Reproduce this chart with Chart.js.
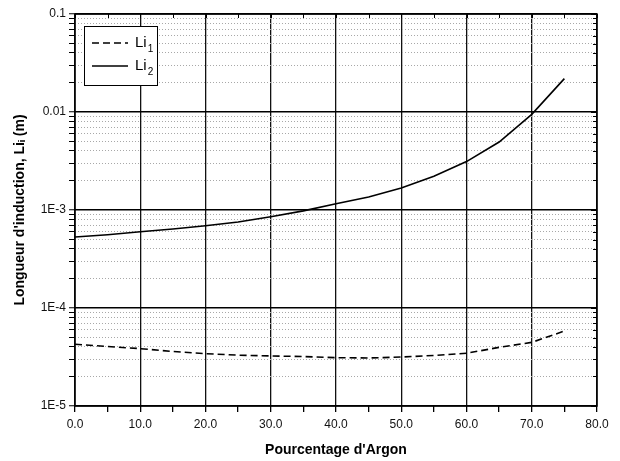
<!DOCTYPE html>
<html lang="fr">
<head>
<meta charset="utf-8">
<title>Longueur d'induction</title>
<script src="https://cdn.jsdelivr.net/npm/chart.js@4.4.0/dist/chart.umd.min.js"></script>
<style>
  html, body { margin: 0; padding: 0; background: #fff; }
  canvas { display: block; }
</style>
</head>
<body>
<canvas id="grafico" width="620" height="461"></canvas>
<script>
// Données
const argon = [0, 5, 10, 15, 20, 25, 30, 35, 40, 45, 50, 55, 60, 65, 70, 75];
const li1 = [4.27e-5, 4.05e-5, 3.85e-5, 3.6e-5, 3.42e-5, 3.3e-5, 3.24e-5, 3.2e-5, 3.11e-5, 3.09e-5, 3.16e-5, 3.28e-5, 3.45e-5, 3.97e-5, 4.46e-5, 5.82e-5];
const li2 = [5.3e-4, 5.6e-4, 6.0e-4, 6.4e-4, 6.9e-4, 7.55e-4, 8.55e-4, 9.8e-4, 1.16e-3, 1.36e-3, 1.68e-3, 2.21e-3, 3.12e-3, 4.94e-3, 9.46e-3, 2.19e-2];
const nomsSeries = ['Li₁', 'Li₂'];
const ticksX = [0, 10, 20, 30, 40, 50, 60, 70, 80];
const decadesY = [1e-5, 1e-4, 1e-3, 1e-2, 1e-1];
const etiquettesY = ['1E-5', '1E-4', '1E-3', '0.01', '0.1'];

function indiceDecade(v) {
    return decadesY.findIndex(d => Math.abs(v / d - 1) < 1e-6);
}

// cadre, graduations miroir et légende dans la zone du graphique
const cadre = {
    id: 'cadre',
    afterDatasetsDraw(chart) {
        const { ctx, chartArea: a, scales: { x, y } } = chart;
        ctx.save();
        ctx.strokeStyle = '#000';
        ctx.lineWidth = 1.5;
        ctx.strokeRect(a.left, a.top, a.right - a.left, a.bottom - a.top);

        ctx.lineWidth = 1;
        ctx.beginPath();
        x.ticks.forEach(t => {
            const px = Math.round(x.getPixelForValue(t.value)) + 0.5;
            ctx.moveTo(px, a.top);
            ctx.lineTo(px, a.top + 4);
        });
        y.ticks.forEach(t => {
            const py = Math.round(y.getPixelForValue(t.value)) + 0.5;
            const l = indiceDecade(t.value) >= 0 ? 6 : 4;
            ctx.moveTo(a.right, py);
            ctx.lineTo(a.right - l, py);
        });
        ctx.stroke();

        // légende
        const bx = a.left + 9, by = a.top + 12, bw = 73, bh = 59;
        ctx.fillStyle = '#fff';
        ctx.fillRect(bx, by, bw, bh);
        ctx.lineWidth = 1;
        ctx.strokeRect(bx + 0.5, by + 0.5, bw, bh);
        chart.data.datasets.forEach((ds, i) => {
            const ly = by + 17 + i * 23;
            ctx.beginPath();
            ctx.setLineDash(ds.borderDash || []);
            ctx.lineWidth = 1.6;
            ctx.moveTo(bx + 8, ly);
            ctx.lineTo(bx + 44, ly);
            ctx.stroke();
            ctx.setLineDash([]);
            const txt = ds.label;
            const sub = '₀₁₂₃₄₅₆₇₈₉'.indexOf(txt.slice(-1));
            ctx.fillStyle = '#000';
            ctx.textBaseline = 'middle';
            ctx.font = '15px "Liberation Sans", Arial, sans-serif';
            ctx.fillText(txt.slice(0, -1), bx + 51, ly);
            const w = ctx.measureText(txt.slice(0, -1)).width;
            ctx.font = '10px "Liberation Sans", Arial, sans-serif';
            ctx.fillText(String(sub), bx + 51 + w + 1, ly + 6);
        });
        ctx.restore();
    }
};

document.addEventListener('DOMContentLoaded', () => {
    Chart.defaults.font.family = '"Liberation Sans", Arial, sans-serif';
    Chart.defaults.color = '#111';

    new Chart(document.getElementById('grafico').getContext('2d'), {
        type: 'line',
        data: {
            datasets: [
                {
                    label: nomsSeries[0],
                    data: argon.map((v, i) => ({ x: v, y: li1[i] })),
                    borderColor: '#000',
                    borderWidth: 1.6,
                    borderDash: [7, 4],
                    pointRadius: 0,
                    fill: false
                },
                {
                    label: nomsSeries[1],
                    data: argon.map((v, i) => ({ x: v, y: li2[i] })),
                    borderColor: '#000',
                    borderWidth: 1.6,
                    pointRadius: 0,
                    fill: false
                }
            ]
        },
        options: {
            responsive: false,
            animation: false,
            layout: { padding: { top: 14, right: 23, left: 0, bottom: 0 } },
            plugins: {
                legend: { display: false },
                tooltip: { enabled: false }
            },
            scales: {
                x: {
                    type: 'linear',
                    min: ticksX[0],
                    max: ticksX[ticksX.length - 1],
                    afterFit: s => { s.height = 55; },
                    ticks: {
                        stepSize: 5,
                        autoSkip: false,
                        maxRotation: 0,
                        padding: 5,
                        font: { size: 12 },
                        callback: v => ticksX.includes(v) ? v.toFixed(1) : ''
                    },
                    grid: {
                        color: c => (c.tick && ticksX.includes(c.tick.value)) ? '#111' : 'rgba(0,0,0,0)',
                        lineWidth: 1.3,
                        tickColor: '#000',
                        tickLength: 6
                    },
                    border: { display: false },
                    title: {
                        display: true,
                        text: "Pourcentage d'Argon",
                        font: { size: 14, weight: 'bold' },
                        color: '#000',
                        padding: { top: 0, bottom: 2 }
                    }
                },
                y: {
                    type: 'logarithmic',
                    min: decadesY[0],
                    max: decadesY[decadesY.length - 1],
                    afterFit: s => { s.width = 75; },
                    afterBuildTicks: s => {
                        const t = [];
                        decadesY.forEach((d, i) => {
                            if (i === decadesY.length - 1) { t.push({ value: d }); return; }
                            for (let m = 1; m <= 9; m++) t.push({ value: d * m });
                        });
                        s.ticks = t;
                    },
                    ticks: {
                        autoSkip: false,
                        padding: 3,
                        font: { size: 12 },
                        callback: v => {
                            const k = indiceDecade(v);
                            return k >= 0 ? etiquettesY[k] : '';
                        }
                    },
                    grid: {
                        color: c => (c.tick && indiceDecade(c.tick.value) >= 0) ? '#000' : '#a8a8a8',
                        lineWidth: c => (c.tick && indiceDecade(c.tick.value) >= 0) ? 1.5 : 1,
                        tickColor: '#000',
                        tickWidth: 1,
                        tickLength: 6
                    },
                    border: {
                        display: false,
                        dash: c => (c.tick && indiceDecade(c.tick.value) < 0) ? [1, 2] : []
                    },
                    title: {
                        display: true,
                        text: "Longueur d'induction, Liᵢ (m)",
                        font: { size: 14, weight: 'bold' },
                        color: '#000',
                        padding: { top: 12, bottom: 0 }
                    }
                }
            }
        },
        plugins: [cadre]
    });
});
</script>
</body>
</html>
